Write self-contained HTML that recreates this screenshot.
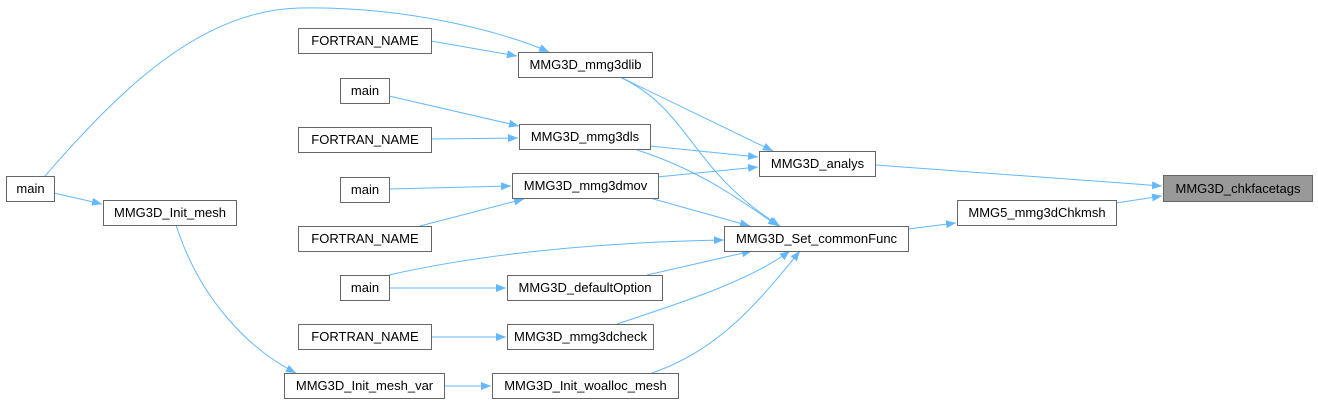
<!DOCTYPE html>
<html><head><style>
html,body{margin:0;padding:0;background:#fff;}
svg text{font-family:"Liberation Sans",Arial,sans-serif;font-size:13px;fill:#000;}
</style></head><body>
<svg width="1318" height="405" viewBox="0 0 1318 405" xmlns="http://www.w3.org/2000/svg">
<defs>
<marker id="a" viewBox="0 0 10 8" refX="10" refY="4" markerWidth="10" markerHeight="8" markerUnits="userSpaceOnUse" orient="auto">
<path d="M0,0 L10,4 L0,8 z" fill="#63b8ff"/>
</marker>
</defs>
<g fill="none" stroke="#63b8ff" stroke-width="1" marker-end="url(#a)">
<path d="M45,176 C120,90 200,10 300,8 C400,6 500,30 549,52"/>
<path d="M431,41 L517,56"/>
<path d="M389,96 L519,126"/>
<path d="M431,139 L518,138"/>
<path d="M389,189 L511,186"/>
<path d="M420,226 L524,199"/>
<path d="M620,77 L773,151"/>
<path d="M650,146 L758,157"/>
<path d="M657,177 L758,167"/>
<path d="M620,77 C690,110 690,170 780,226"/>
<path d="M637,150 C700,170 740,200 778,226"/>
<path d="M650,198 L750,226"/>
<path d="M389,275 C500,250 620,242 724,240"/>
<path d="M647,275 L752,251"/>
<path d="M617,324 C690,300 750,280 790,251"/>
<path d="M652,373 C720,350 760,300 800,251"/>
<path d="M389,288 L506,288"/>
<path d="M431,337 L506,337"/>
<path d="M444,386 L491,386"/>
<path d="M54,193 L102,204"/>
<path d="M176,225 C200,300 250,350 296,373"/>
<path d="M876,165 L1162,186"/>
<path d="M1116,203 L1162,196"/>
<path d="M908,229 L956,223"/>
</g>
<g fill="#fff" stroke="#666" stroke-width="1">
<rect x="6.5" y="176.5" width="48" height="25"/>
<rect x="103.5" y="200.5" width="133" height="25"/>
<rect x="298.5" y="28.5" width="133" height="25"/>
<rect x="340.5" y="78.5" width="49" height="25"/>
<rect x="298.5" y="127.5" width="133" height="25"/>
<rect x="340.5" y="177.5" width="49" height="25"/>
<rect x="298.5" y="226.5" width="133" height="25"/>
<rect x="340.5" y="275.5" width="49" height="25"/>
<rect x="298.5" y="324.5" width="133" height="25"/>
<rect x="284.5" y="373.5" width="160" height="25"/>
<rect x="518.5" y="52.5" width="134" height="25"/>
<rect x="519.5" y="124.5" width="131" height="25"/>
<rect x="512.5" y="173.5" width="146" height="25"/>
<rect x="507.5" y="275.5" width="155" height="25"/>
<rect x="507.5" y="324.5" width="146" height="25"/>
<rect x="492.5" y="373.5" width="186" height="25"/>
<rect x="759.5" y="151.5" width="116" height="25"/>
<rect x="724.5" y="226.5" width="184" height="25"/>
<rect x="957.5" y="200.5" width="159" height="25"/>
<rect x="1163.5" y="175.5" width="149" height="26" fill="#999"/>
</g>
<g text-anchor="middle">
<text x="30.5" y="193">main</text>
<text x="170" y="217">MMG3D_Init_mesh</text>
<text x="365" y="45">FORTRAN_NAME</text>
<text x="365" y="95">main</text>
<text x="365" y="144">FORTRAN_NAME</text>
<text x="365" y="194">main</text>
<text x="365" y="243">FORTRAN_NAME</text>
<text x="365" y="292">main</text>
<text x="365" y="341">FORTRAN_NAME</text>
<text x="364.5" y="390">MMG3D_Init_mesh_var</text>
<text x="585.5" y="69">MMG3D_mmg3dlib</text>
<text x="585" y="141">MMG3D_mmg3dls</text>
<text x="585.5" y="190">MMG3D_mmg3dmov</text>
<text x="585" y="292">MMG3D_defaultOption</text>
<text x="580.5" y="341">MMG3D_mmg3dcheck</text>
<text x="585.5" y="390">MMG3D_Init_woalloc_mesh</text>
<text x="817.5" y="168">MMG3D_analys</text>
<text x="816.5" y="243">MMG3D_Set_commonFunc</text>
<text x="1037" y="217">MMG5_mmg3dChkmsh</text>
<text x="1238" y="193">MMG3D_chkfacetags</text>
</g>
</svg>
</body></html>
